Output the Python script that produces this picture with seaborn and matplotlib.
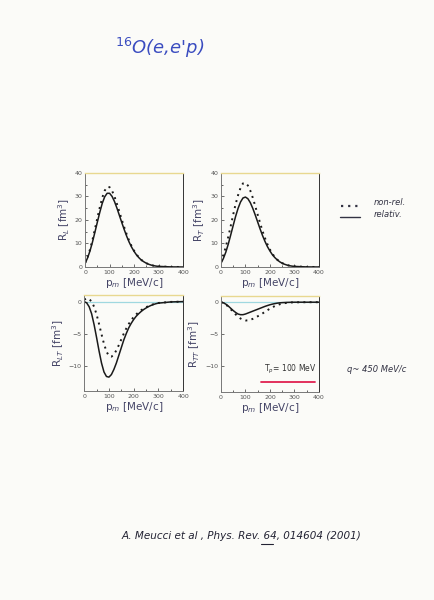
import matplotlib
matplotlib.use('Agg')
import matplotlib.pyplot as plt
import seaborn as sns
import pandas as pd

# 16O(e,e'p) response functions, q ~ 450 MeV/c, Tp = 100 MeV
pm = [0, 10, 20, 30, 40, 50, 60, 70, 80, 90, 100, 110, 120, 130, 140, 150,
      160, 170, 180, 190, 200, 210, 220, 230, 240, 250, 260, 270, 280, 290,
      300, 350, 400]

rl_rel = [1.5, 3.8, 6.8, 10.5, 14.7, 19, 23.2, 27, 29.8, 31.3, 31.3, 30, 27.8,
          25, 21.9, 18.8, 15.8, 13, 10.5, 8.4, 6.6, 5.1, 3.9, 2.9, 2.2, 1.6,
          1.15, 0.8, 0.55, 0.38, 0.26, 0.04, 0]
rl_nonrel = [1.7, 4.1, 7.4, 11.4, 16, 20.7, 25.3, 29.4, 32.4, 34, 33.9, 32.4,
             29.9, 26.8, 23.4, 20, 16.8, 13.8, 11.1, 8.8, 6.9, 5.3, 4, 3, 2.2,
             1.6, 1.15, 0.8, 0.55, 0.38, 0.26, 0.04, 0]

rt_rel = [1.5, 3.6, 6.3, 9.7, 13.6, 17.6, 21.5, 24.9, 27.6, 29.3, 29.7, 29,
          27.3, 24.9, 22.1, 19.1, 16.1, 13.3, 10.8, 8.6, 6.8, 5.2, 4, 3, 2.2,
          1.6, 1.15, 0.8, 0.55, 0.37, 0.25, 0.03, 0]
rt_nonrel = [2, 5, 8.6, 12.8, 17.4, 22.2, 26.7, 30.5, 33.6, 35.5, 35.7, 34.6,
             32.4, 29.4, 25.9, 22.2, 18.6, 15.2, 12.2, 9.6, 7.4, 5.6, 4.2, 3.1,
             2.3, 1.65, 1.18, 0.82, 0.56, 0.38, 0.26, 0.03, 0]

rlt_rel = [0, -0.2, -0.8, -1.9, -3.6, -5.6, -7.7, -9.6, -11, -11.7, -11.8,
           -11.4, -10.6, -9.6, -8.4, -7.2, -6.0, -5.0, -4.1, -3.4, -2.8, -2.3,
           -1.9, -1.55, -1.25, -1.0, -0.78, -0.6, -0.45, -0.33, -0.24, -0.05, 0]
rlt_nonrel = [0.3, 0.5, 0.4, 0, -0.8, -2, -3.5, -5.1, -6.6, -7.8, -8.5, -8.6,
              -8.3, -7.6, -6.8, -5.9, -5.0, -4.2, -3.5, -2.9, -2.4, -2.0,
              -1.65, -1.35, -1.1, -0.88, -0.7, -0.54, -0.41, -0.3, -0.22,
              -0.05, 0]

rtt_rel = [0, -0.1, -0.3, -0.6, -0.95, -1.3, -1.6, -1.85, -1.95, -1.95, -1.85,
           -1.7, -1.55, -1.4, -1.25, -1.1, -0.95, -0.8, -0.65, -0.52, -0.4, -0.3,
           -0.22, -0.15, -0.1, -0.07, -0.05, -0.03, -0.02, -0.01, 0, 0, 0]
rtt_nonrel = [0, -0.1, -0.35, -0.7, -1.1, -1.5, -1.9, -2.25, -2.55, -2.75, -2.85,
              -2.85, -2.75, -2.6, -2.4, -2.2, -2.0, -1.75, -1.5, -1.25, -1.0,
              -0.8, -0.6, -0.45, -0.32, -0.22, -0.15, -0.1, -0.06, -0.03, -0.02,
              0, 0]

ylabels = ['R$_L$ [fm$^3$]', 'R$_T$ [fm$^3$]', 'R$_{LT}$ [fm$^3$]', 'R$_{TT}$ [fm$^3$]']

sns.set_style('ticks')
plt.rcParams['font.family'] = ['DejaVu Sans']

fig = plt.figure(figsize=(4.34, 6.0), dpi=100, facecolor='#fbfbf8')

# axes boxes in figure fraction (left, bottom, width, height)
boxes = [[0.196, 0.555, 0.226, 0.157],
         [0.509, 0.555, 0.226, 0.157],
         [0.194, 0.348, 0.228, 0.160],
         [0.509, 0.347, 0.226, 0.160]]
panels = [(rl_rel, rl_nonrel), (rt_rel, rt_nonrel),
          (rlt_rel, rlt_nonrel), (rtt_rel, rtt_nonrel)]

for i, (rel, nonrel) in enumerate(panels):
    ax = fig.add_axes(boxes[i])
    ax.set_facecolor('#fbfbf8')
    df = pd.DataFrame({'pm': pm, 'rel': rel, 'nonrel': nonrel})
    sns.lineplot(data=df, x='pm', y='rel', ax=ax, color='#1a1a1a', lw=1.1)
    sns.lineplot(data=df, x='pm', y='nonrel', ax=ax, color='#1a1a1a',
                 lw=1.4, linestyle=(0, (1, 2.2)))
    ax.set_xlim(0, 400)
    ax.set_xticks([0, 100, 200, 300, 400])
    ax.set_xticks(range(0, 401, 50), minor=True)
    if i < 2:
        ax.set_ylim(0, 40)
        ax.set_yticks([0, 10, 20, 30, 40])
        ax.set_yticks(range(0, 41, 5), minor=True)
    else:
        ax.set_ylim(-14, 1)
        ax.set_yticks([0, -5, -10])
        ax.axhline(0, color='#9fd8e0', lw=0.9, zorder=0)
    ax.tick_params(axis='both', which='major', direction='in', length=2.5,
                   width=0.6, labelsize=4.5, colors='#555555', pad=2)
    ax.tick_params(axis='both', which='minor', direction='in', length=1.5, width=0.5)
    for side in ['left', 'bottom', 'right']:
        ax.spines[side].set_color('#777777')
        ax.spines[side].set_linewidth(0.7)
    ax.spines['top'].set_color('#e8d890')
    ax.spines['top'].set_linewidth(1.0)
    ax.spines['right'].set_color('#333333')
    ax.set_xlabel('p$_m$ [MeV/c]', fontsize=7.5, color='#444466', labelpad=1)
    ax.set_ylabel(ylabels[i], fontsize=7.5, color='#444466', labelpad=2)
    if i == 3:
        ax.text(390, -11.5, 'T$_p$= 100 MeV', fontsize=5.5, color='#333333',
                ha='right', va='bottom')
        ax.plot([165, 385], [-12.4, -12.4], color='#e02050', lw=1.3)

# handwritten notes on the page
fig.text(0.265, 0.92, "$^{16}$O(e,e'p)", fontsize=13, color='#3a4cc0',
         fontstyle='italic', ha='left', va='center')

fig.lines.append(plt.Line2D([0.785, 0.825], [0.657, 0.657], transform=fig.transFigure,
                            color='#333344', lw=1.6, linestyle=(0, (1, 2.2))))
fig.text(0.86, 0.662, 'non-rel.', fontsize=6, color='#333344',
         fontstyle='italic', ha='left', va='center')
fig.lines.append(plt.Line2D([0.783, 0.83], [0.638, 0.638], transform=fig.transFigure,
                            color='#333344', lw=1.0))
fig.text(0.86, 0.643, 'relativ.', fontsize=6, color='#333344',
         fontstyle='italic', ha='left', va='center')

fig.text(0.8, 0.384, 'q~ 450 MeV/c', fontsize=6, color='#333344',
         fontstyle='italic', ha='left', va='center')

fig.text(0.28, 0.107, 'A. Meucci et al , Phys. Rev. 64, 014604 (2001)',
         fontsize=7.5, color='#222233', fontstyle='italic', ha='left', va='center')
fig.lines.append(plt.Line2D([0.601, 0.628], [0.094, 0.094], transform=fig.transFigure,
                            color='#222233', lw=0.8))

fig.savefig('out.png', dpi=100, facecolor=fig.get_facecolor())
